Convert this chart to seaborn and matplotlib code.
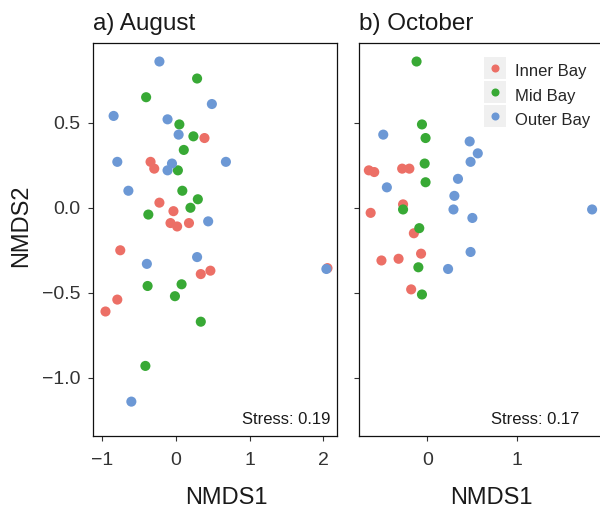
import matplotlib
matplotlib.use("Agg")
import matplotlib.pyplot as plt
from matplotlib.lines import Line2D
from matplotlib.legend_handler import HandlerTuple
import seaborn as sns
import pandas as pd

# Sites and colours
sites = ["Inner Bay", "Mid Bay", "Outer Bay"]
palette = {"Inner Bay": "#EC6F66", "Mid Bay": "#38A935", "Outer Bay": "#6C98D5"}

# a) August - NMDS scores
aug_inner_x = [0.39, -0.34, -0.29, -0.22, -0.03, -0.07, 0.02, 0.18, -0.75, 0.34, 0.47, 2.055, -0.79, -0.95]
aug_inner_y = [0.41, 0.27, 0.23, 0.03, -0.02, -0.09, -0.11, -0.09, -0.25, -0.39, -0.37, -0.355, -0.54, -0.61]
aug_mid_x = [0.29, -0.40, 0.05, 0.24, 0.11, 0.03, 0.09, 0.30, 0.20, -0.37, -0.38, 0.08, -0.01, 0.34, -0.41]
aug_mid_y = [0.76, 0.65, 0.49, 0.42, 0.34, 0.22, 0.10, 0.05, 0.00, -0.04, -0.46, -0.45, -0.52, -0.67, -0.93]
aug_outer_x = [-0.22, 0.49, -0.84, -0.11, 0.04, -0.79, -0.05, -0.11, 0.68, -0.64, 0.44, -0.39, 0.29, 2.04, -0.60]
aug_outer_y = [0.86, 0.61, 0.54, 0.52, 0.43, 0.27, 0.26, 0.22, 0.27, 0.10, -0.08, -0.33, -0.29, -0.36, -1.14]

# b) October
oct_inner_x = [-0.65, -0.59, -0.28, -0.20, -0.27, -0.63, -0.15, -0.51, -0.32, -0.07, -0.18]
oct_inner_y = [0.22, 0.21, 0.23, 0.23, 0.02, -0.03, -0.15, -0.31, -0.30, -0.27, -0.48]
oct_mid_x = [-0.12, -0.06, -0.02, -0.03, -0.02, -0.27, -0.09, -0.10, -0.06]
oct_mid_y = [0.86, 0.49, 0.41, 0.26, 0.15, -0.01, -0.12, -0.35, -0.51]
oct_outer_x = [-0.49, 0.47, 0.56, 0.48, -0.45, 0.34, 0.30, 0.29, 0.50, 1.83, 0.48, 0.23]
oct_outer_y = [0.43, 0.39, 0.32, 0.27, 0.12, 0.17, 0.07, -0.01, -0.06, -0.01, -0.26, -0.36]

y_ticks = [-1.0, -0.5, 0.0, 0.5]
y_tick_labels = ["\u22121.0", "\u22120.5", "0.0", "0.5"]
aug_x_ticks = [-1, 0, 1, 2]
aug_x_tick_labels = ["\u22121", "0", "1", "2"]
oct_x_ticks = [0, 1]
oct_x_tick_labels = ["0", "1"]


def make_df(parts):
    frames = []
    for site, xs, ys in parts:
        frames.append(pd.DataFrame({"NMDS1": xs, "NMDS2": ys, "Site": site}))
    return pd.concat(frames, ignore_index=True)


df_aug = make_df([("Inner Bay", aug_inner_x, aug_inner_y),
                  ("Mid Bay", aug_mid_x, aug_mid_y),
                  ("Outer Bay", aug_outer_x, aug_outer_y)])
df_oct = make_df([("Inner Bay", oct_inner_x, oct_inner_y),
                  ("Mid Bay", oct_mid_x, oct_mid_y),
                  ("Outer Bay", oct_outer_x, oct_outer_y)])

sns.set_theme(style="ticks")
plt.rcParams["font.family"] = ["Liberation Sans", "DejaVu Sans"]
txt = "#1a1a1a"

fig = plt.figure(figsize=(6, 5.14), dpi=100)
ax1 = fig.add_axes([0.1555, 0.1518, 0.4057, 0.7636])
ax2 = fig.add_axes([0.5978, 0.1518, 0.4072, 0.7636])

for ax, df in [(ax1, df_aug), (ax2, df_oct)]:
    sns.scatterplot(data=df, x="NMDS1", y="NMDS2", hue="Site", palette=palette,
                    s=53, linewidth=0, alpha=1, legend=False, ax=ax)
    ax.set_ylim(-1.342, 0.966)
    ax.set_yticks(y_ticks)
    for sp in ax.spines.values():
        sp.set_visible(True)
        sp.set_color("#111111")
        sp.set_linewidth(0.9)
    ax.tick_params(length=3.3, width=0.8, color="#333333", labelcolor="#333333",
                   labelsize=14)
    ax.tick_params(axis="x", pad=8.5)
    ax.tick_params(axis="y", pad=6)

ax1.set_xlim(-1.115, 2.18)
ax1.set_xticks(aug_x_ticks)
ax1.set_xticklabels(aug_x_tick_labels)
ax1.set_yticklabels(y_tick_labels)

ax2.set_xlim(-0.763, 1.951)
ax2.set_xticks(oct_x_ticks)
ax2.set_xticklabels(oct_x_tick_labels)
ax2.set_yticklabels([])
ax2.set_ylabel("")

ax1.set_xlabel("NMDS1", fontsize=17, color=txt)
ax1.xaxis.set_label_coords(0.545, -0.130)
ax2.set_xlabel("NMDS1", fontsize=17, color=txt)
ax2.xaxis.set_label_coords(0.542, -0.130)
ax1.set_ylabel("NMDS2", fontsize=17, color=txt)
ax1.yaxis.set_label_coords(-0.25, 0.535)

ax1.set_title("a) August", loc="left", fontsize=17.5, pad=9.5, color=txt)
ax2.set_title("b) October", loc="left", fontsize=17.5, pad=9.5, color=txt)

ax1.text(0.9725, 0.0298, "Stress: 0.19", transform=ax1.transAxes,
         ha="right", va="baseline", fontsize=12, color=txt)
ax2.text(0.9018, 0.0298, "Stress: 0.17", transform=ax2.transAxes,
         ha="right", va="baseline", fontsize=12, color=txt)

# legend keys: grey square with a dot centred on it
fs = 12
fs_px = fs * 100 / 72
handles = [(Line2D([], [], marker="s", linestyle="none", markersize=23 * 72 / 100,
                   markerfacecolor="#F0F0F0", markeredgewidth=0),
            Line2D([], [], marker="o", linestyle="none", markersize=5.8,
                   markerfacecolor=palette[s], markeredgewidth=0))
           for s in sites]
ax2.legend(handles, sites, handler_map={tuple: HandlerTuple(ndivide=1, pad=0)},
           loc="upper left", bbox_to_anchor=(483.3 / 600, 1 - 59.3 / 514),
           bbox_transform=fig.transFigure, frameon=False, borderpad=0,
           borderaxespad=0, handlelength=23 / fs_px,
           handleheight=(23 / fs_px - 0.245) / 0.65,
           handletextpad=0.55, labelspacing=0.08, fontsize=fs)

fig.savefig("out.png", dpi=100)
